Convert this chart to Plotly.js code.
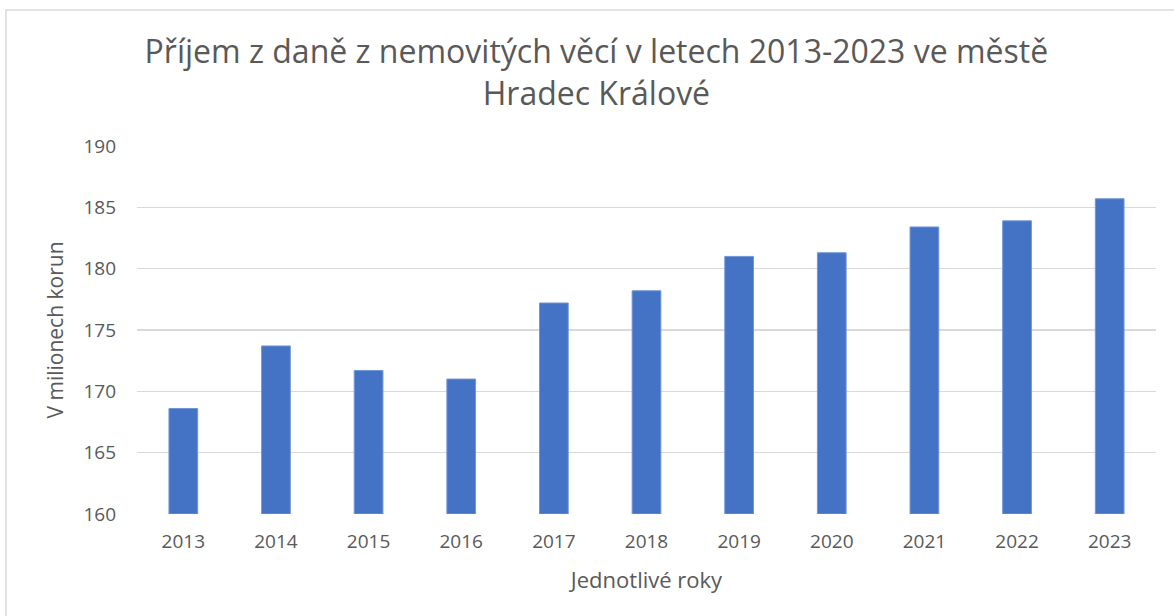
<!DOCTYPE html>
<html>
<head>
<meta charset="utf-8">
<script src="https://cdn.plot.ly/plotly-3.0.1.min.js"></script>
<style>
html, body { margin: 0; padding: 0; background: #fff; }
#chart { width: 1174px; height: 616px; }
</style>
</head>
<body>
<div id="chart"></div>
<script>
const years = ["2013","2014","2015","2016","2017","2018","2019","2020","2021","2022","2023"];
const revenue = [168.6, 173.7, 171.7, 171.0, 177.2, 178.2, 181.0, 181.3, 183.4, 183.9, 185.7];
const yTicks = [160, 165, 170, 175, 180, 185, 190];
const axisMin = 160;

const fontFam = "Open Sans, Noto Sans, sans-serif";
const textColor = "#595959";

const trace = {
  type: "bar",
  x: years,
  y: revenue.map(v => v - axisMin),
  base: axisMin,
  customdata: revenue,
  hovertemplate: "%{x}: %{customdata}<extra></extra>",
  marker: { color: "#4472c4", line: { color: "#7096d8", width: 1 } }
};

const layout = {
  width: 1174,
  height: 616,
  paper_bgcolor: "#ffffff",
  plot_bgcolor: "#ffffff",
  margin: { l: 137, r: 18, t: 146, b: 102 },
  bargap: 0.69,
  showlegend: false,
  title: {
    text: "Příjem z daně z nemovitých věcí v letech 2013-2023 ve městě<br>Hradec Králové",
    font: { family: fontFam, size: 32, color: textColor },
    x: 0.508,
    xanchor: "center",
    y: 0.897,
    yanchor: "top"
  },
  xaxis: {
    type: "category",
    showgrid: false,
    showline: false,
    ticks: "",
    ticklabelstandoff: 14,
    tickfont: { family: fontFam, size: 19, color: textColor },
    title: { text: "Jednotlivé roky", font: { family: fontFam, size: 22, color: textColor }, standoff: 19 }
  },
  yaxis: {
    range: [160, 190],
    tickvals: yTicks,
    ticktext: yTicks.map(String),
    showgrid: true,
    gridcolor: "#d9d9d9",
    gridwidth: 1.5,
    zeroline: false,
    showline: false,
    ticks: "",
    ticklabelstandoff: 20,
    tickfont: { family: fontFam, size: 19, color: textColor },
    title: { text: "V milionech korun", font: { family: fontFam, size: 21, color: textColor }, standoff: 14 }
  },
  shapes: [
    { type: "rect", xref: "paper", yref: "paper", x0: -0.1286, x1: 1.2, y0: -0.5, y1: 1.3696,
      line: { color: "#d9d9d9", width: 1.5 }, fillcolor: "rgba(0,0,0,0)", layer: "below" }
  ]
};

Plotly.newPlot("chart", [trace], layout, { displayModeBar: false, staticPlot: true });
</script>
</body>
</html>
